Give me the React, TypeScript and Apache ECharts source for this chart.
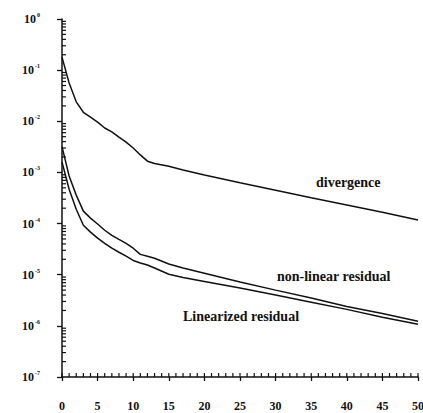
import React, { useEffect, useRef } from "react";
import * as echarts from "echarts";

const iterations = [0, 1, 2, 3, 4, 5, 6, 7, 8, 9, 10, 11, 12, 13, 15, 17, 20, 25, 30, 35, 40, 45, 50];

const divergence = [
  1.8e-1, 5.6e-2, 2.4e-2, 1.5e-2, 1.2e-2, 9.6e-3, 7.4e-3, 6.2e-3, 4.9e-3, 3.9e-3, 3.0e-3,
  2.2e-3, 1.66e-3, 1.5e-3, 1.32e-3, 1.12e-3, 8.9e-4, 6.3e-4, 4.5e-4, 3.2e-4, 2.3e-4, 1.66e-4, 1.17e-4,
];

const nonLinearResidual = [
  3.2e-3, 8.5e-4, 3.6e-4, 1.75e-4, 1.28e-4, 9.8e-5, 7.4e-5, 5.9e-5, 4.9e-5, 4.1e-5, 3.3e-5,
  2.5e-5, 2.3e-5, 2.1e-5, 1.62e-5, 1.35e-5, 1.07e-5, 7.2e-6, 5.0e-6, 3.5e-6, 2.4e-6, 1.74e-6, 1.23e-6,
];

const linearizedResidual = [
  1.6e-3, 4.7e-4, 1.9e-4, 9.3e-5, 6.8e-5, 5.2e-5, 4.1e-5, 3.3e-5, 2.75e-5, 2.3e-5, 1.9e-5,
  1.7e-5, 1.55e-5, 1.35e-5, 1.02e-5, 8.8e-6, 7.4e-6, 5.5e-6, 4.0e-6, 2.9e-6, 2.1e-6, 1.48e-6, 1.07e-6,
];

const seriesLabels = ["divergence", "non-linear residual", "Linearized residual"];

const yMinorTicks = [2, 3, 4, 5, 6, 7, 8, 9];
const yDecades = [-7, -6, -5, -4, -3, -2, -1];
const xMinorTicks = Array.from({ length: 51 }, (_, i) => i);

const SERIF = "'Liberation Serif', 'DejaVu Serif', serif";

export default function App() {
  const ref = useRef<HTMLDivElement>(null);

  useEffect(() => {
    if (!ref.current) return;
    const chart = echarts.init(ref.current, undefined, { renderer: "svg" });

    const lineStyle = { color: "#111", width: 1.5 };
    const mkLine = (vals: number[]) => iterations.map((x, i) => [x, vals[i]]);

    const texts: any[] = [
      { type: "text", left: 316, top: 175, style: { text: seriesLabels[0], font: `bold 14px ${SERIF}`, fill: "#111" } },
      { type: "text", left: 277, top: 269, style: { text: seriesLabels[1], font: `bold 14px ${SERIF}`, fill: "#111" } },
      { type: "text", left: 183, top: 309, style: { text: seriesLabels[2], font: `bold 14px ${SERIF}`, fill: "#111" } },
    ];

    chart.setOption({
      animation: false,
      backgroundColor: "#fff",
      grid: { left: 62, right: 5, top: 19, bottom: 36, containLabel: false, outerBoundsMode: "none" },
      xAxis: {
        type: "value",
        min: 0,
        max: 50,
        interval: 5,
        splitLine: { show: false },
        axisLine: { lineStyle: { color: "#111", width: 1.5 } },
        axisTick: { show: true, inside: false, length: 4, lineStyle: { color: "#111", width: 1.3 } },
        axisLabel: { margin: 23, color: "#111", fontFamily: SERIF, fontWeight: "bold", fontSize: 12 },
      },
      yAxis: {
        type: "log",
        logBase: 10,
        min: 1e-7,
        max: 1,
        splitLine: { show: false },
        axisLine: { lineStyle: { color: "#111", width: 1.5 } },
        axisTick: { show: true, inside: false, length: 5, lineStyle: { color: "#111", width: 1.3 } },
        axisLabel: {
          margin: 22,
          color: "#111",
          formatter: (v: number) => {
            const e = Math.round(Math.log10(v));
            return `{b|10}{s|${e}}`;
          },
          rich: {
            b: { fontFamily: SERIF, fontWeight: "bold", fontSize: 12, color: "#111", lineHeight: 14 },
            s: { fontFamily: SERIF, fontWeight: "bold", fontSize: 6, color: "#111", verticalAlign: "top", lineHeight: 14, padding: [0, 0, 7, 1] },
          },
        },
      },
      series: [
        { type: "line", name: seriesLabels[0], data: mkLine(divergence), showSymbol: false, lineStyle, silent: true },
        { type: "line", name: seriesLabels[1], data: mkLine(nonLinearResidual), showSymbol: false, lineStyle, silent: true },
        { type: "line", name: seriesLabels[2], data: mkLine(linearizedResidual), showSymbol: false, lineStyle, silent: true },
      ],
      graphic: texts,
    });

    // minor ticks placed through the chart's own scales
    const ticks: any[] = [];
    yDecades.forEach((d) => {
      yMinorTicks.forEach((m) => {
        const p = chart.convertToPixel({ gridIndex: 0 }, [0, m * Math.pow(10, d)]) as number[];
        if (!p) return;
        ticks.push({
          type: "line",
          silent: true,
          shape: { x1: p[0], y1: p[1], x2: p[0] + 4, y2: p[1] },
          style: { stroke: "#111", lineWidth: 1.2 },
        });
      });
    });
    xMinorTicks.forEach((x) => {
      const p = chart.convertToPixel({ gridIndex: 0 }, [x, 1e-7]) as number[];
      if (!p) return;
      ticks.push({
        type: "line",
        silent: true,
        shape: { x1: p[0], y1: p[1], x2: p[0], y2: p[1] - 4 },
        style: { stroke: "#111", lineWidth: 1.2 },
      });
    });

    chart.setOption({ graphic: [...texts, ...ticks] });

    return () => chart.dispose();
  }, []);

  return <div ref={ref} style={{ width: 423, height: 413, position: "absolute", left: 0, top: 0 }} />;
}
